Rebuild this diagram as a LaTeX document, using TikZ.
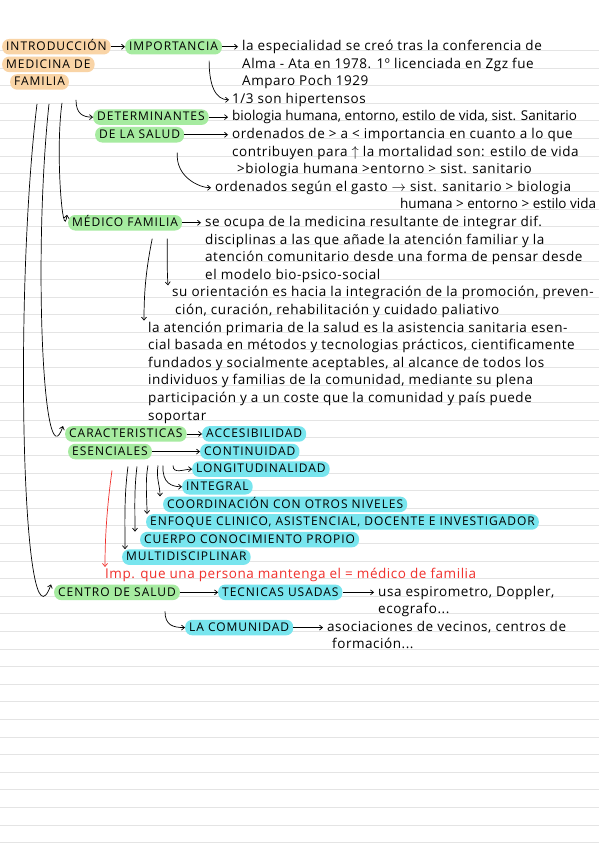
\documentclass[tikz,border=0pt]{standalone}
\usepackage{fontspec}
\setmainfont{Open Sans}[LetterSpace=4]
\usepackage{tikz}
\usetikzlibrary{arrows.meta}

\definecolor{hlorange}{HTML}{F9D4A6}
\definecolor{hlgreen}{HTML}{A6EBA0}
\definecolor{hlcyan}{HTML}{78E5EE}
\definecolor{rulegray}{HTML}{E4E4E4}
\definecolor{inkred}{HTML}{F0302C}

\newcommand\notefont{\fontsize{13.5}{17.6}\selectfont}
\newcommand\tightfont{\addfontfeatures{LetterSpace=0}\fontsize{13.5}{17.6}\selectfont}
\newcommand\capfont{\addfontfeatures{LetterSpace=8}\fontsize{12}{17.6}\selectfont}

\tikzset{
  hl/.style={anchor=base west, rounded corners=7pt, inner xsep=4pt, inner ysep=2.5pt,
             text height=9pt, text depth=1.5pt, font=\capfont},
  hlo/.style={hl, fill=hlorange},
  hlg/.style={hl, fill=hlgreen},
  hlc/.style={hl, fill=hlcyan},
  % multi-line notes sit on the baseline of their last line
  txt/.style={anchor=base west, inner xsep=0pt, inner ysep=1pt, align=left, font=\notefont},
  arr/.style={-{Straight Barb[length=3pt,width=5pt]}, line width=0.7pt},
  rule/.style={rulegray, line width=0.8pt}
}

\begin{document}
\begin{tikzpicture}[x=1pt,y=1pt]
  \fill[white] (0,0) rectangle (599,-848);
  \useasboundingbox (0,0) rectangle (599,-848);
  % ruled paper
  \foreach \k in {0,...,45}
    \draw[rule] (0,{-50.5-17.6*\k}) -- (599,{-50.5-17.6*\k});

  % title and importance
  \node[hlo] (intro) at (2,-50.5) {INTRODUCCIÓN};
  \node[hlo] (introb) at (2,-68.1) {MEDICINA DE};
  \node[hlo] (introc) at (10,-85.7) {FAMILIA};
  \node[hlg] (imp) at (125,-50.5) {IMPORTANCIA};
  \node[txt] (esp) at (242,-85.7) {la especialidad se creó tras la conferencia de\\
    Alma - Ata en 1978. 1º licenciada en Zgz fue\\ Amparo Poch 1929};
  \node[txt] (hip) at (232,-103.3) {1/3 son hipertensos};
  \draw[arr] (intro) -- (imp);
  \draw[arr, shorten >=4pt] (imp.east) -- (imp.east -| esp.west);
  \draw[arr] ([shift={(-13pt,-6pt)}]imp.south east) .. controls +(0,-24) and +(-14,0) .. ([xshift=-3pt]hip.west);

  % determinantes
  \node[hlg] (det) at (93,-120.9) {DETERMINANTES};
  \node[hlg] (detb) at (95,-138.5) {DE LA SALUD};
  \node[txt, font=\tightfont] (bio) at (232,-120.9) {biologia humana, entorno, estilo de vida, sist. Sanitario};
  \node[txt] (ord) at (232,-173.7) {ordenados de > a < importancia en cuanto a lo que\\
    contribuyen para $\uparrow$ la mortalidad son: estilo de vida\\
    \hspace{5pt}>biologia humana >entorno > sist. sanitario};
  \node[txt] (gas) at (215,-191.3) {ordenados según el gasto $\rightarrow$ sist. sanitario > biologia};
  \node[txt, font=\tightfont] (gasb) at (400,-208.9) {humana > entorno > estilo vida};
  \draw[arr] ([shift={(66pt,-10pt)}]introc.south west) .. controls +(0,-14) and +(-10,0) .. (det.west);
  \draw[arr, shorten >=4pt] (det.east) -- (det.east -| bio.west);
  \draw[arr, shorten >=4pt] (detb.east) -- (detb.east -| ord.west);
  \draw[arr] ([shift={(-7pt,-10pt)}]detb.south east) .. controls +(-2,-24) and +(-12,0) .. ([xshift=-4pt]gas.west);

  % medico de familia
  \node[hlg] (med) at (68,-226.5) {MÉDICO FAMILIA};
  \node[txt] (ocu) at (205,-279.3) {se ocupa de la medicina resultante de integrar dif.\\
    disciplinas a las que añade la atención familiar y la\\
    atención comunitario desde una forma de pensar desde\\
    el modelo bio-psico-social};
  \node[txt] (ori) at (172,-314.5) {su orientación es hacia la integración de la promoción, preven-\\
    \hspace{3pt}ción, curación, rehabilitación y cuidado paliativo};
  \node[txt] (apr) at (148,-420.1) {la atención primaria de la salud es la asistencia sanitaria esen-\\
    cial basada en métodos y tecnologias prácticos, cientificamente\\
    fundados y socialmente aceptables, al alcance de todos los\\
    individuos y familias de la comunidad, mediante su plena\\
    participación y a un coste que la comunidad y país puede\\
    soportar};
  \draw[arr] ([shift={(52pt,-13pt)}]introc.south west) .. controls +(-7,-50) and +(-4,-30) .. ([xshift=-1pt]med.north west);
  \draw[arr, shorten >=4pt] (med.east) -- (med.east -| ocu.west);
  \draw[arr] ([shift={(-15pt,-8pt)}]med.south east) .. controls +(0,-16) and +(-1,14) .. ([xshift=-4pt]ori.north west);
  \draw[arr] ([shift={(-30pt,-8pt)}]med.south east) .. controls +(-6,-30) and +(0,30) .. ([xshift=-4pt]apr.north west);

  % caracteristicas esenciales
  \node[hlg] (car) at (65,-437.7) {CARACTERISTICAS};
  \node[hlg] (carb) at (68,-455.3) {ESENCIALES};
  \node[hlc] (acc) at (202,-437.7) {ACCESIBILIDAD};
  \node[hlc] (con) at (200,-455.3) {CONTINUIDAD};
  \node[hlc] (lon) at (192,-472.9) {LONGITUDINALIDAD};
  \node[hlc] (int) at (182,-490.5) {INTEGRAL};
  \node[hlc] (coo) at (163,-508.1) {COORDINACIÓN CON OTROS NIVELES};
  \node[hlc] (enf) at (146,-525.7) {ENFOQUE CLINICO, ASISTENCIAL, DOCENTE E INVESTIGADOR};
  \node[hlc] (cue) at (140,-543.3) {CUERPO CONOCIMIENTO PROPIO};
  \node[hlc] (mul) at (122,-560.9) {MULTIDISCIPLINAR};
  \node[txt, text=inkred] (red) at (105,-578.5) {Imp. que una persona mantenga el = médico de familia};
  \draw[arr] ([shift={(39pt,-14pt)}]introc.south west) .. controls +(-16,-150) and +(-20,-60) .. ([xshift=-2pt]car.north west);
  \draw[arr] (car) -- (acc);
  \draw[arr] (carb) -- (con);
  \draw[arr] ([shift={(105pt,-6pt)}]carb.south west) .. controls +(0,-9) and +(-8,0) .. (lon.west);
  \draw[arr] ([shift={(95pt,-6pt)}]carb.south west) .. controls +(-1,-18) and +(-10,0) .. (int.west);
  \draw[arr] ([shift={(90pt,-6pt)}]carb.south west) .. controls +(-2,-14) and +(0,12) .. ([xshift=-3pt]coo.north west);
  \draw[arr] ([shift={(80pt,-6pt)}]carb.south west) .. controls +(-3,-16) and +(0,16) .. ([xshift=1pt]enf.north west);
  \draw[arr] ([shift={(69pt,-7pt)}]carb.south west) .. controls +(-3,-24) and +(0,22) .. ([xshift=-5pt]cue.north west);
  \draw[arr] ([shift={(60pt,-7pt)}]carb.south west) .. controls +(-4,-30) and +(0,26) .. ([xshift=3pt]mul.north west);
  \draw[arr, inkred] ([shift={(44pt,-11pt)}]carb.south west) .. controls +(-5,-36) and +(0,30) .. (red.north west);

  % centro de salud
  \node[hlg] (cen) at (54,-596.1) {CENTRO DE SALUD};
  \node[hlc] (tec) at (218,-596.1) {TECNICAS USADAS};
  \node[hlc] (com) at (185,-631.3) {LA COMUNIDAD};
  \node[txt] (usa) at (378,-613.7) {usa espirometro, Doppler,\\ ecografo...};
  \node[txt] (aso) at (327,-648.9) {asociaciones de vecinos, centros de\\ \hspace{5pt}formación...};
  \draw[arr] ([shift={(27pt,-14pt)}]introc.south west) .. controls +(-24,-200) and +(-28,-80) .. ([xshift=-3pt]cen.north west);
  \draw[arr] (cen) -- (tec);
  \draw[arr, shorten >=4pt] (tec.east) -- (tec.east -| usa.west);
  \draw[arr] ([shift={(111pt,-11pt)}]cen.south west) .. controls +(0,-14) and +(-12,0) .. (com.west);
  \draw[arr, shorten >=4pt] (com.east) -- (com.east -| aso.west);
\end{tikzpicture}
\end{document}
